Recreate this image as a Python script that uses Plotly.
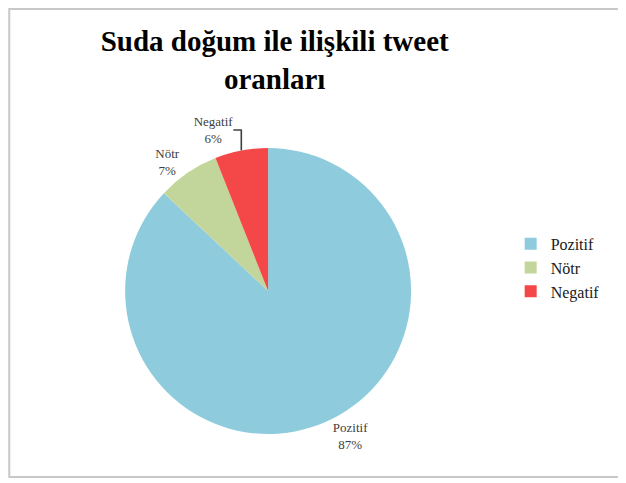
import plotly.graph_objects as go

categories = ["Pozitif", "Nötr", "Negatif"]
values = [87, 7, 6]
colors = ["#8ECCDD", "#C2D69B", "#F44848"]
title_text = "Suda doğum ile ilişkili tweet<br>oranları"

SERIF = "Liberation Serif, Times New Roman, serif"

fig = go.Figure(go.Pie(
    labels=categories,
    values=values,
    sort=False,
    direction="clockwise",
    rotation=0,
    marker=dict(colors=colors, line=dict(color="white", width=0)),
    textposition="outside",
    texttemplate="%{label}<br>%{percent:.0%}",
    textfont=dict(family=SERIF, size=13, color="#404040"),
    outsidetextfont=dict(family=SERIF, size=13, color="#404040"),
    domain=dict(x=[0.187, 0.644], y=[0.118, 0.710]),
    showlegend=True,
))

fig.update_layout(
    width=626, height=483,
    margin=dict(l=0, r=0, t=0, b=0),
    paper_bgcolor="white",
    font=dict(family=SERIF),
    title=dict(text="<b>" + title_text + "</b>", x=0.426, xanchor="center",
               y=0.911, yanchor="top",
               font=dict(family=SERIF, size=29, color="black")),
    legend=dict(x=0.803, y=0.462, xanchor="left", yanchor="middle",
                font=dict(family=SERIF, size=16, color="#202020"),
                itemwidth=30),
    shapes=[dict(type="rect", xref="paper", yref="paper", x0=0.002, x1=0.982,
                 y0=0.029, y1=0.998, line=dict(color="#C8C8C8", width=2))],
)

fig.write_html("out.html")
